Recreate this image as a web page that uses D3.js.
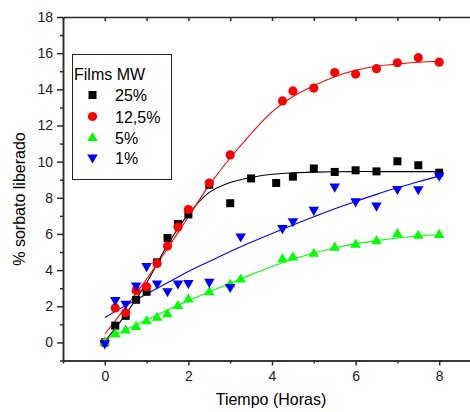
<!DOCTYPE html>
<html>
<head>
<meta charset="utf-8">
<script src="https://cdn.jsdelivr.net/npm/d3@7"></script>
<style>
  body { margin: 0; background: #fff; }
  svg { display: block; font-family: Arial, "Liberation Sans", sans-serif; }
  .axis path, .axis line { stroke: #2b2b2b; stroke-width: 1.5; }
  .axis text { font-size: 14px; fill: #222; }
</style>
</head>
<body>
<div class="canva"></div>
<script>
// measured data points (hours, % sorbate released)
var t25 = [0, 0.25, 0.5, 0.75, 1, 1.25, 1.5, 1.75, 2, 2.5, 3, 3.5, 4.1, 4.5, 5, 5.5, 6, 6.5, 7, 7.5, 8];
var y25 = [0, 0.93, 1.47, 2.36, 2.8, 4.43, 5.78, 6.55, 7.08, 8.72, 7.7, 9.07, 8.82, 9.17, 9.62, 9.43, 9.52, 9.46, 10.02, 9.8, 9.39];

var t125 = [0, 0.25, 0.5, 0.75, 1, 1.25, 1.5, 1.75, 2, 2.5, 3, 4.25, 4.5, 5, 5.5, 6, 6.5, 7, 7.5, 8];
var y125 = [0, 1.91, 1.64, 2.87, 3.08, 4.37, 5.33, 6.39, 7.35, 8.82, 10.37, 13.36, 13.91, 14.07, 14.93, 14.84, 15.14, 15.47, 15.75, 15.5];

var t5 = [0, 0.25, 0.5, 0.75, 1, 1.25, 1.5, 1.75, 2, 2.5, 3, 3.25, 4.25, 4.5, 5, 5.5, 6, 6.5, 7, 7.5, 8];
var y5 = [0, 0.46, 0.66, 0.86, 1.17, 1.36, 1.56, 2.01, 2.38, 2.78, 3.2, 3.48, 4.6, 4.7, 4.9, 5.24, 5.4, 5.6, 5.99, 5.9, 5.95];

var t1 = [0, 0.25, 0.5, 0.75, 1, 1.25, 1.5, 1.75, 2, 2.5, 3, 3.25, 4.25, 4.5, 5, 5.5, 6, 6.5, 7, 7.5, 8];
var y1 = [-0.05, 2.34, 2.14, 3.15, 4.22, 3.26, 2.83, 3.26, 3.28, 3.35, 3.07, 5.86, 6.32, 6.7, 7.33, 8.62, 7.8, 7.57, 8.49, 8.47, 9.22];

// fitted curves
var fitT = [0, 0.5, 1, 1.5, 2, 2.5, 3, 3.5, 4, 4.5, 5, 5.5, 6, 6.5, 7, 7.5, 8];
var fit25 = [0.05, 1.55, 3.3, 5.4, 7.1, 8.3, 8.85, 9.12, 9.3, 9.38, 9.42, 9.44, 9.45, 9.45, 9.45, 9.45, 9.45];
var fit125 = [0.45, 1.95, 3.5, 5.2, 6.95, 8.7, 10.2, 11.55, 12.75, 13.6, 14.2, 14.7, 15.05, 15.28, 15.4, 15.5, 15.55];
var fit5 = [0.13, 0.7, 1.25, 1.8, 2.3, 2.8, 3.27, 3.75, 4.2, 4.6, 4.95, 5.22, 5.45, 5.63, 5.78, 5.89, 5.97];
var fit1 = [1.38, 2.04, 2.68, 3.3, 3.92, 4.48, 5.03, 5.54, 6.03, 6.5, 6.95, 7.39, 7.8, 8.19, 8.55, 8.89, 9.2];

var seriesNames = ["25%", "12,5%", "5%", "1%"];
var seriesColors = ["#000000", "#ff0000", "#00ff00", "#0000ff"];
var xTickLabels = [0, 2, 4, 6, 8];
var yTickLabels = [0, 2, 4, 6, 8, 10, 12, 14, 16, 18];

const svg = d3.select(".canva").append("svg")
    .attr("width", 470)
    .attr("height", 412);

// plot box
const plotLeft = 63, plotTop = 17, plotBottom = 360.5;

var x = d3.scaleLinear().domain([-1, 9]).range([plotLeft, 481]);
var y = d3.scaleLinear().domain([-1, 18]).range([plotBottom, plotTop]);

// fitted lines
var fitLine = d3.line()
    .x((d) => x(d[0]))
    .y((d) => y(d[1]))
    .curve(d3.curveCatmullRom);

var fits = [fit25, fit125, fit5, fit1];
fits.forEach(function (f, k) {
    svg.append("path")
        .datum(fitT.map((t, i) => [t, f[i]]))
        .attr("fill", "none")
        .attr("stroke", seriesColors[k])
        .attr("stroke-width", 1.1)
        .attr("d", fitLine);
});

// axes
var odd = (a, b) => d3.range(a, b + 1).filter((v) => Math.abs(v % 2) === 1);

svg.append("g").attr("class", "axis")
    .attr("transform", `translate(0, ${plotBottom})`)
    .call(d3.axisBottom(x).tickValues(xTickLabels).tickSize(5).tickSizeOuter(0).tickPadding(6));
svg.append("g").attr("class", "axis")
    .attr("transform", `translate(0, ${plotBottom})`)
    .call(d3.axisBottom(x).tickValues(odd(-1, 9)).tickSize(3).tickFormat("").tickSizeOuter(0));
svg.append("g").attr("class", "axis")
    .attr("transform", `translate(0, ${plotTop})`)
    .call(d3.axisTop(x).tickValues(d3.range(-1, 10)).tickSize(-4).tickFormat("").tickSizeOuter(0));

svg.append("g").attr("class", "axis")
    .attr("transform", `translate(${plotLeft}, 0)`)
    .call(d3.axisLeft(y).tickValues(yTickLabels).tickSize(6).tickSizeOuter(0).tickPadding(4));
svg.append("g").attr("class", "axis")
    .attr("transform", `translate(${plotLeft}, 0)`)
    .call(d3.axisLeft(y).tickValues(odd(-1, 17)).tickSize(3).tickFormat("").tickSizeOuter(0));

// markers
var shapes = [
    d3.symbol().type(d3.symbolSquare).size(64),
    d3.symbol().type(d3.symbolCircle).size(66),
    d3.symbol().type(d3.symbolTriangle).size(48),
    d3.symbol().type(d3.symbolTriangle).size(48)
];
var ts = [t25, t125, t5, t1];
var ys = [y25, y125, y5, y1];

ts.forEach(function (tt, k) {
    svg.append("g").selectAll("path")
        .data(tt)
        .enter()
        .append("path")
        .attr("d", shapes[k])
        .attr("fill", seriesColors[k])
        .attr("transform", (d, i) => `translate(${x(d)}, ${y(ys[k][i])})` + (k === 3 ? " rotate(180)" : ""));
});

// legend
const legend = svg.append("g");
legend.append("rect")
    .attr("x", 72.5).attr("y", 54.5)
    .attr("width", 99).attr("height", 125)
    .attr("fill", "#fff")
    .attr("stroke", "#222")
    .attr("stroke-width", 1);
legend.append("text")
    .attr("x", 74).attr("y", 80)
    .style("font-size", "16px")
    .text("Films MW");

var legendY = [95, 116.5, 138, 157.5];
seriesNames.forEach(function (name, k) {
    legend.append("path")
        .attr("d", shapes[k])
        .attr("fill", seriesColors[k])
        .attr("transform", `translate(92.5, ${legendY[k]})` + (k === 3 ? " rotate(180)" : ""));
    legend.append("text")
        .attr("x", 115).attr("y", legendY[k] + 6)
        .style("font-size", "16px")
        .text(name);
});

// axis titles
svg.append("text")
    .attr("x", 271).attr("y", 405)
    .attr("text-anchor", "middle")
    .style("font-size", "16px")
    .text("Tiempo (Horas)");

svg.append("text")
    .attr("transform", "translate(25, 199) rotate(-90)")
    .attr("text-anchor", "middle")
    .style("font-size", "16px")
    .text("% sorbato liberado");
</script>
</body>
</html>
